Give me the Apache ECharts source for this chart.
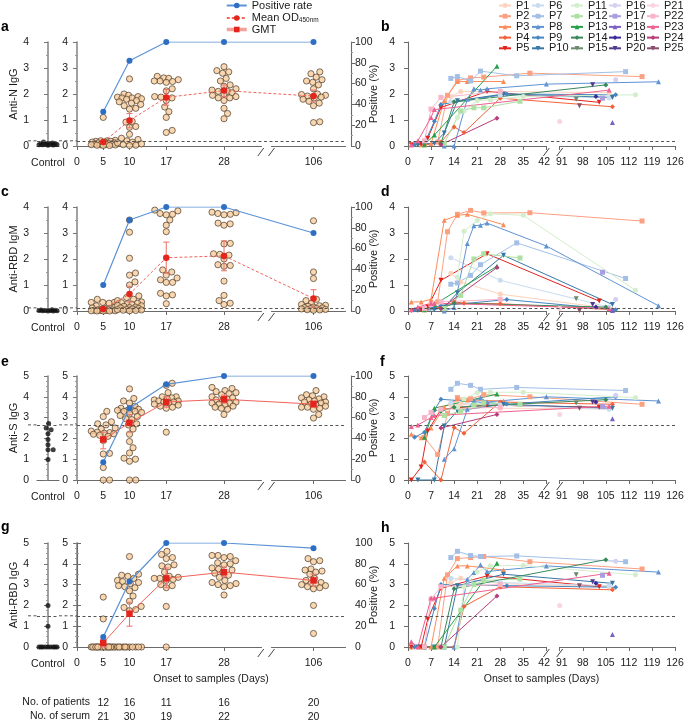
<!DOCTYPE html>
<html><head><meta charset="utf-8">
<script src="https://cdn.jsdelivr.net/npm/echarts@6/dist/echarts.min.js"></script>
<style>html,body{margin:0;padding:0;background:#fff}#c{width:685px;height:720px}</style>
</head><body><div id="c"></div><script>
const FONT = '"Liberation Sans", Arial, Helvetica, sans-serif';
const TXT = '#1a1a1a';
const AX = '#6a6a6a';

// ---------- shared categories ----------
const days = [5, 10, 17, 28, 106];
const xTicksLeft = [0, 5, 10, 17, 28, 106];
const nPatients = [12, 16, 11, 16, 20];
const nSerum = [21, 30, 19, 22, 20];

// ---------- panel a : Anti-N IgG ----------
const antiNIgG = [
  [1.1, 0.22, 0.2, 0.2, 0.18, 0.18, 0.15, 0.15, 0.12, 0.12, 0.1, 0.1, 0.08, 0.08, 0.06, 0.05, 0.05, 0.04, 0.03, 0.02, 0.02],
  [2.58, 2.0, 1.95, 1.9, 1.88, 1.85, 1.85, 1.82, 1.8, 1.75, 1.7, 1.65, 1.6, 1.55, 1.45, 1.42, 0.95, 0.92, 0.75, 0.72, 0.45, 0.3, 0.25, 0.2, 0.15, 0.12, 0.08, 0.05, 0.03, 0.02],
  [2.68, 2.62, 2.6, 2.55, 2.5, 2.5, 2.48, 2.45, 2.2, 2.12, 1.9, 1.88, 1.85, 1.75, 1.5, 1.32, 1.1, 0.6, 0.52],
  [3.05, 2.9, 2.85, 2.8, 2.6, 2.5, 2.35, 2.3, 2.2, 2.15, 2.1, 2.1, 2.05, 2.0, 1.95, 1.9, 1.85, 1.85, 1.75, 1.45, 1.25, 1.05],
  [2.85, 2.78, 2.65, 2.55, 2.5, 2.45, 2.35, 2.2, 2.0, 1.98, 1.95, 1.92, 1.88, 1.85, 1.8, 1.72, 1.65, 1.55, 0.93, 0.9]
];
const ctrlN = [0.05, 0.08, 0.1, 0.03, 0.06, 0.12, 0.07, 0.04, 0.09, 0.15, 0.05, 0.08];
const meanN = [0.15, 0.98, 1.87, 2.13, 1.92];
const errN = [[0.1, 0.2], [0.7, 1.25], [1.57, 2.17], [1.9, 2.35], [1.7, 2.15]];
const posN = [33, 82, 100, 100, 100];
const cutN = 0.2;

// ---------- panel c : Anti-RBD IgM ----------
const antiRBDIgM = [
  [0.45, 0.33, 0.33, 0.33, 0.3, 0.2, 0.15, 0.12, 0.1, 0.08, 0.06, 0.05, 0.04, 0.03, 0.02, 0.02, 0.01, 0.01, 0.0, 0.0, 0.0],
  [3.5, 3.03, 2.03, 1.46, 1.38, 1.12, 1.0, 0.58, 0.52, 0.45, 0.4, 0.35, 0.32, 0.3, 0.28, 0.25, 0.22, 0.2, 0.18, 0.15, 0.13, 0.12, 0.1, 0.08, 0.06, 0.05, 0.04, 0.03, 0.02, 0.01],
  [3.88, 3.85, 3.75, 3.72, 3.7, 3.5, 3.3, 3.05, 1.58, 1.5, 1.38, 1.27, 1.2, 1.1, 1.1, 0.68, 0.62, 0.58, 0.28],
  [3.8, 3.78, 3.75, 3.72, 3.7, 3.38, 3.35, 3.3, 2.6, 2.58, 2.2, 2.18, 2.15, 2.0, 1.78, 1.75, 1.72, 1.15, 0.6, 0.4, 0.3, 0.25],
  [3.47, 1.5, 1.25, 0.45, 0.4, 0.3, 0.25, 0.22, 0.2, 0.18, 0.15, 0.13, 0.12, 0.1, 0.09, 0.08, 0.06, 0.05, 0.04, 0.03]
];
const ctrlIgM = [0.0, 0.02, 0.01, 0.03, 0.0, 0.05, 0.02, 0.01, 0.04, 0.02];
const meanIgM = [0.08, 0.65, 2.05, 2.12, 0.48];
const errIgM = [[0.02, 0.15], [0.35, 0.95], [1.45, 2.65], [1.55, 2.7], [0.15, 0.82]];
const posIgM = [25, 87.5, 100, 100, 75];
const cutIgM = 0.12;

// ---------- panel e : Anti-S IgG ----------
const antiSIgG = [
  [3.3, 3.05, 2.8, 2.7, 2.65, 2.5, 2.45, 2.35, 2.3, 2.28, 2.25, 2.22, 2.2, 2.15, 2.1, 1.9, 1.28, 1.25, 0.6, 0.0, 0.0],
  [4.38, 3.92, 3.8, 3.7, 3.55, 3.45, 3.4, 3.38, 3.35, 3.35, 3.3, 3.3, 3.25, 3.2, 3.1, 3.05, 2.95, 2.9, 2.7, 2.65, 2.45, 2.2, 1.85, 1.55, 1.3, 1.05, 1.0, 0.9, 0.0, 0.0],
  [4.65, 4.55, 4.2, 4.0, 4.0, 3.95, 3.9, 3.85, 3.8, 3.8, 3.75, 3.75, 3.7, 3.65, 3.6, 3.55, 3.5, 3.45, 2.3],
  [4.45, 4.4, 4.3, 4.25, 4.2, 4.15, 4.1, 4.0, 3.95, 3.9, 3.85, 3.8, 3.75, 3.7, 3.7, 3.65, 3.6, 3.55, 3.5, 3.45, 3.4, 3.15],
  [4.3, 4.1, 4.05, 4.0, 3.95, 3.9, 3.85, 3.8, 3.75, 3.75, 3.7, 3.65, 3.6, 3.55, 3.5, 3.5, 3.45, 3.4, 3.15, 2.98]
];
const ctrlS = [2.72, 2.5, 2.42, 2.22, 1.95, 1.7, 1.45, 1.45, 0.98];
const gmtS = [1.95, 2.75, 3.75, 3.88, 3.65];
const errS = [[1.5, 2.3], [2.3, 3.15], [3.5, 4.0], [3.7, 4.08], [3.5, 3.8]];
const posS = [17, 69, 92, 100, 100];
const cutS = 2.65;

// ---------- panel g : Anti-RBD IgG ----------
const antiRBDIgG = [
  [2.4, 1.35, 0, 0, 0, 0, 0, 0, 0, 0, 0, 0, 0, 0, 0, 0, 0, 0, 0, 0, 0],
  [4.35, 3.5, 3.45, 3.4, 3.3, 3.2, 3.15, 3.1, 3.05, 2.95, 2.9, 2.85, 2.7, 2.45, 2.2, 1.95, 1.9, 1.8, 1.75, 0, 0, 0, 0, 0, 0, 0, 0, 0, 0, 0],
  [4.6, 4.45, 4.3, 4.25, 3.95, 3.9, 3.85, 3.6, 3.4, 3.35, 3.3, 3.3, 3.25, 3.2, 3.0, 2.95, 2.85, 1.95, 0.0],
  [4.4, 4.4, 4.35, 4.3, 4.15, 4.05, 4.0, 3.95, 3.8, 3.75, 3.7, 3.6, 3.55, 3.45, 3.35, 3.2, 3.1, 3.05, 3.0, 2.95, 2.9, 2.5],
  [4.25, 4.15, 4.1, 3.75, 3.7, 3.65, 3.6, 3.5, 3.3, 3.2, 3.1, 3.05, 3.0, 3.0, 2.95, 2.9, 2.85, 2.8, 2.0, 0.65]
];
const ctrlRBD = [2.0, 1.0, 0, 0, 0, 0, 0, 0, 0, 0, 0];
const gmtRBD = [0.2, 1.6, 3.3, 3.6, 3.2];
const errRBD = [[0.0, 0.35], [1.0, 2.15], [2.85, 3.8], [3.4, 3.85], [2.95, 3.5]];
const posRBD = [9.5, 63, 100, 100, 95];
const cutRBD = 1.5;

// ---------- patients (panels b, d, f, h) ----------
const patNames = ['P1','P2','P3','P4','P5','P6','P7','P8','P9','P10','P11','P12','P13','P14','P15','P16','P17','P18','P19','P20','P21','P22','P23','P24','P25'];
const patColors = ['#fdd3bd','#fca082','#fb8d5a','#f0623a','#e3231e',
                   '#c9dcf0','#a3bfe6','#5f93d2','#4686c0','#3877a5',
                   '#d3eecb','#ade0a3','#24a049','#38895a','#6b8a6a',
                   '#d5cff1','#a99de0','#7a60c6','#3a2a9c','#4f3a8e',
                   '#fbd4e0','#f8b4c8','#ee6190','#b83b7a','#8a4c6c'];
const sampleDays = [
  [13, 16, 28, 106], [5, 9, 12, 15, 19, 23, 37, 116], [1, 4, 7, 11, 15, 18, 29], [5, 10, 14, 17, 28, 107], [1, 4, 6, 10, 24, 103],
  [13, 28, 106], [13, 15, 19, 22, 33, 111], [11, 14, 18, 20, 22, 24, 42, 121], [2, 5, 8, 10, 30, 108], [3, 8, 11, 15, 29, 107],
  [15, 17, 21, 25, 35, 114], [11, 16, 20, 23, 34], [5, 8, 27], [10, 14, 105], [96],
  [108], [104], [107], [102], [101],
  [91], [5, 7, 10, 28], [1, 3, 7, 8, 106], [10, 27], [97]
];
const patN = [
  [1.9, 2.1, 2.1, 2.05], [0.05, 0.15, 1.95, 2.52, 2.62, 2.65, 2.8, 2.67], [0.05, 0.05, 0.1, 1.75, 2.48, 2.48, 2.48], [0.05, 0.15, 0.73, 0.52, 1.84, 1.51], [0.05, 0.08, 0.3, 1.48, 2.1, 1.68],
  [1.7, 1.95, 1.85], [2.6, 2.67, 2.5, 2.88, 2.7, 2.86], [0, 0, 1.8, 2.2, 2.15, 2.2, 2.38, 2.47], [0.05, 0.1, 0.95, 1.6, 2.0, 1.97], [0.05, 0.1, 0.5, 1.74, 2.0, 1.87],
  [1.1, 1.35, 1.75, 1.77, 1.9, 1.97], [0.1, 1.35, 1.47, 1.47, 1.72], [0.05, 0.42, 3.07], [0.1, 1.7, 2.35], [1.8],
  [2.55], [1.84], [0.9], [1.9], [2.36],
  [0.94], [0.2, 1.42, 1.87, 2.1], [0.05, 0.2, 1.1, 1.4, 2.15], [0.05, 1.07], [1.55]
];
const patIgM = [
  [1.45, 1.12, 0.65, 0.1], [0.05, 0.35, 3.05, 3.72, 3.87, 3.77, 3.78, 3.46], [0.35, 0.35, 0.45, 3.49, 3.68, 3.72, 3.32], [0.05, 0.15, 0.35, 0.3, 0.28, 0.05], [0.02, 0.05, 0.15, 1.18, 2.2, 0.38],
  [2.05, 1.18, 0.15], [1.03, 1.08, 1.37, 1.78, 2.62, 1.25], [0.0, 0.13, 2.6, 3.28, 3.3, 3.38, 2.5, 0.2], [0.05, 0.08, 0.15, 0.2, 0.44, 0.05], [0.02, 0.05, 0.15, 0.7, 2.14, 0.25],
  [1.3, 3.07, 3.48, 3.74, 3.68, 0.8], [0.1, 0.6, 2.0, 2.2, 2.04], [0.05, 0.25, 1.72], [0.1, 0.3, 0.15], [0.47],
  [0.44], [1.49], [0.02], [0.15], [0.25],
  [0.1], [0.1, 0.25, 0.35, 0.45], [0.05, 0.15, 0.3, 0.3, 0.1], [0.1, 1.67], [0.02]
];
const patS = [
  [3.6, 3.65, 3.45, 3.42], [2.05, 1.23, 3.2, 3.96, 3.9, 4.1, 4.0, 3.64], [2.2, 2.03, 2.5, 3.5, 3.9, 3.85, 3.8], [0.87, 0.0, 2.52, 2.25, 3.75, 3.64], [0.0, 0.62, 2.35, 3.4, 3.6, 3.5],
  [3.7, 3.6, 3.4], [4.36, 4.65, 4.55, 4.36, 4.45, 4.3], [1.0, 1.5, 3.4, 3.8, 3.95, 3.75, 4.0, 3.8], [2.05, 2.3, 3.35, 3.88, 3.65, 4.0], [0, 0, 2.6, 3.33, 3.64, 3.45],
  [3.5, 3.9, 4.2, 4.22, 4.22, 3.96], [3.1, 3.3, 3.6, 3.7, 3.64], [2.05, 3.45, 4.13], [3.3, 3.5, 3.86], [3.7],
  [4.08], [3.53], [2.95], [3.75], [3.75],
  [3.15], [3.0, 3.25, 3.4, 3.5], [2.57, 2.65, 3.0, 3.1, 3.55], [2.5, 3.15], [3.45]
];
const patRBD = [
  [3.1, 3.3, 3.05, 2.9], [0, 0, 3.47, 4.25, 4.3, 4.35, 4.1, 3.75], [0, 0, 0, 3.3, 3.9, 3.9, 3.7], [0, 0, 0, 1.95, 2.9, 2.75], [0, 0, 1.34, 2.82, 3.42, 2.9],
  [3.3, 3.1, 2.95], [4.3, 4.6, 4.4, 4.35, 4.38, 4.1], [0, 0, 3.26, 3.58, 3.95, 3.63, 3.9, 3.6], [0, 0, 1.85, 3.0, 2.95, 2.87], [0, 0, 0, 2.94, 3.5, 3.06],
  [0, 2.9, 3.6, 3.9, 3.92, 3.47], [0, 1.77, 3.0, 3.2, 3.27], [0, 0, 4.03], [0, 2.8, 4.2], [3.47],
  [4.12], [3.45], [0.6], [3.06], [3.14],
  [2.0], [0, 2.3, 2.9, 3.0], [0.25, 0, 2.35, 2.35, 3.55], [0, 2.45], [2.94]
];

// ---------- layout helpers ----------
const TOPS = [42, 207, 376, 543], H = 104;
const CT = {left: 37, width: 22}, LM = {left: 77, width: 268}, RP = {left: 408, width: 267};
const XPPD_MAIN = 5.25;   // px per day on left panels (swarm layout)
const CTRL_PPU = 11;      // px per unit on control x axis
const SYMS = ['circle', 'rect', 'triangle', 'diamond', 'triangle'];
const ROTS = [0, 0, 0, 0, 180];
const LEG_COL_X = [498, 531, 570, 608, 646];

// beeswarm layout: horizontal offsets (px) so that dots do not overlap
function swarm(vals, pxPerY, d, cap) {
  const idx = vals.map((v, i) => i).sort((a, b) => vals[a] - vals[b]);
  const placed = [], off = new Array(vals.length);
  for (const i of idx) {
    const y = vals[i] * pxPerY;
    const cands = [0];
    for (const p of placed) {
      const dy = Math.abs(p.y - y);
      if (dy < d) { const dx = Math.sqrt(d * d - dy * dy); cands.push(p.x + dx, p.x - dx); }
    }
    cands.sort((a, b) => Math.abs(a) - Math.abs(b));
    let x = null;
    for (const c of cands) {
      if (Math.abs(c) > cap) continue;
      if (placed.every(p => (p.x - c) ** 2 + (p.y - y) ** 2 >= d * d - 0.01)) { x = c; break; }
    }
    if (x === null) {
      let best = 0, bestD = -1;
      for (let c = -cap; c <= cap + 1e-9; c += 0.5) {
        let md = Infinity;
        for (const p of placed) md = Math.min(md, Math.hypot(p.x - c, p.y - y));
        if (md > bestD + 1e-9) { bestD = md; best = c; }
      }
      x = best;
    }
    placed.push({x, y}); off[i] = x;
  }
  return off;
}

const rows = [
  {title: 'Anti-N IgG', max: 4, groups: antiNIgG, ctrl: ctrlN, mean: meanN, err: errN, pos: posN, cut: cutN, meanName: 'Mean OD450nm', dashed: true, sym: 'circle', pat: patN, minor: 2},
  {title: 'Anti-RBD IgM', max: 4, groups: antiRBDIgM, ctrl: ctrlIgM, mean: meanIgM, err: errIgM, pos: posIgM, cut: cutIgM, meanName: 'Mean OD450nm', dashed: true, sym: 'circle', pat: patIgM, minor: 2},
  {title: 'Anti-S IgG', max: 5, groups: antiSIgG, ctrl: ctrlS, mean: gmtS, err: errS, pos: posS, cut: cutS, meanName: 'GMT', dashed: false, sym: 'rect', pat: patS, minor: 4},
  {title: 'Anti-RBD IgG', max: 5, groups: antiRBDIgG, ctrl: ctrlRBD, mean: gmtRBD, err: errRBD, pos: posRBD, cut: cutRBD, meanName: 'GMT', dashed: false, sym: 'rect', pat: patRBD, minor: 4}
];

const txt = {fontFamily: FONT, fontSize: 10.5, color: TXT};
const axLine = {show: true, lineStyle: {color: AX, width: 1.1}};
const leftBreaks = [{start: 35, end: 98, gap: '4%'}];
const rightBreaks = [{start: 42, end: 91, gap: '5%'}];
const noBreakArea = {show: false, expandOnClick: false};
const DASH = [3, 2.5];
const ML = v => ({silent: true, symbol: ['none', 'none'], label: {show: false}, animation: false,
  lineStyle: {color: '#555', width: 1, type: DASH}, emphasis: {disabled: true}, data: [{yAxis: v}]});

const grid = [], xAxis = [], yAxis = [], series = [];
const G = (left, top, width) => ({left, top, width, height: H, outerBoundsMode: 'none', containLabel: false});
const leftY = (R, extra, showLabel) => Object.assign({type: 'value', min: 0, max: R.max, interval: 1,
  axisLine: {show: true, lineStyle: {color: '#8a8a8a', width: 1.6}},
  axisTick: {show: true, length: 4, lineStyle: {color: '#777'}},
  minorTick: {show: true, splitNumber: R.minor, length: 2, lineStyle: {color: '#999'}},
  axisLabel: Object.assign({show: showLabel, margin: 4}, txt), splitLine: {show: false}}, extra);

rows.forEach((R, r) => {
  const top = TOPS[r], gi = 3 * r, yi = 4 * r;
  const pxPerY = H / R.max;
  grid.push(G(CT.left, top, CT.width));
  grid.push(G(LM.left, top, LM.width));
  grid.push(G(RP.left, top, RP.width));

  xAxis.push({gridIndex: gi, type: 'value', min: -1, max: 1, offset: 6, axisLine: axLine, axisTick: {show: false},
    axisLabel: {show: false}, splitLine: {show: false}, name: 'Control', nameLocation: 'middle', nameGap: 6, nameMoveOverlap: false,
    nameTextStyle: Object.assign({verticalAlign: 'top'}, txt)});
  xAxis.push({gridIndex: gi + 1, type: 'value', min: 0, max: 112, offset: 6, breaks: leftBreaks, breakArea: noBreakArea,
    axisLine: axLine, axisTick: {show: true, customValues: xTicksLeft, length: 4, lineStyle: {color: AX}},
    axisLabel: Object.assign({customValues: xTicksLeft, margin: 5}, txt), splitLine: {show: false},
    name: r === 3 ? 'Onset to samples (Days)' : '', nameLocation: 'middle', nameGap: 21, nameMoveOverlap: false,
    nameTextStyle: Object.assign({verticalAlign: 'top'}, txt)});
  xAxis.push({gridIndex: gi + 2, type: 'value', min: 0, max: 126, interval: 7, offset: 6, breaks: rightBreaks, breakArea: noBreakArea,
    axisLine: axLine, axisTick: {show: true, length: 4, lineStyle: {color: AX}},
    axisLabel: Object.assign({margin: 5}, txt), splitLine: {show: false},
    name: r === 3 ? 'Onset to samples (Days)' : '', nameLocation: 'middle', nameGap: 21, nameMoveOverlap: false,
    nameTextStyle: Object.assign({verticalAlign: 'top'}, txt)});

  yAxis.push(leftY(R, {gridIndex: gi, offset: 4, position: 'left'}, false));   // control axis: labels drawn below
  yAxis.push(leftY(R, {gridIndex: gi + 1, offset: 5, position: 'left'}, true));
  yAxis.push({gridIndex: gi + 1, type: 'value', position: 'right', offset: 6, min: 0, max: 100, interval: 20,
    axisLine: {show: true, lineStyle: {color: AX, width: 1.1}}, axisTick: {show: true, length: 4, lineStyle: {color: AX}},
    minorTick: {show: true, splitNumber: 2, length: 2, lineStyle: {color: '#999'}},
    axisLabel: Object.assign({margin: 4}, txt), splitLine: {show: false},
    name: 'Positive (%)', nameLocation: 'middle', nameGap: 17, nameRotate: 90, nameMoveOverlap: false,
    nameTextStyle: Object.assign({}, txt, {fontSize: 11})});
  yAxis.push({gridIndex: gi + 2, type: 'value', offset: 9, position: 'left', min: 0, max: R.max, interval: 1,
    axisLine: {show: true, lineStyle: {color: AX, width: 1.1}}, axisTick: {show: true, length: 4, lineStyle: {color: AX}},
    axisLabel: Object.assign({margin: 4}, txt), splitLine: {show: false}});

  // control dots
  const cOff = swarm(R.ctrl, pxPerY, 5.2, 9);
  series.push({type: 'scatter', xAxisIndex: gi, yAxisIndex: yi, z: 3, silent: true,
    data: R.ctrl.map((v, i) => [cOff[i] / CTRL_PPU, v]), symbolSize: 5, itemStyle: {color: '#111'}, markLine: ML(R.cut)});

  // patient dots (beeswarm)
  const pts = [];
  R.groups.forEach((g, k) => {
    const off = swarm(g, pxPerY, 6.3, 12);
    g.forEach((v, i) => pts.push([days[k] + off[i] / XPPD_MAIN, v]));
  });
  series.push({type: 'scatter', xAxisIndex: gi + 1, yAxisIndex: yi + 1, z: 3, silent: true, data: pts, symbolSize: 6.2,
    itemStyle: {color: '#f6cd9d', borderColor: '#4d3b2a', borderWidth: 0.9}, markLine: ML(R.cut)});

  // error bars
  series.push({type: 'custom', xAxisIndex: gi + 1, yAxisIndex: yi + 1, z: 4, silent: true,
    data: R.err.map((e, k) => [days[k], e[0], e[1]]), encode: {x: 0, y: [1, 2]},
    renderItem: (params, api) => {
      const x = api.value(0);
      const a = api.coord([x, api.value(2)]), b = api.coord([x, api.value(1)]);
      const st = {stroke: '#ee7a72', lineWidth: 1.1};
      return {type: 'group', children: [
        {type: 'line', shape: {x1: a[0], y1: a[1], x2: b[0], y2: b[1]}, style: st},
        {type: 'line', shape: {x1: a[0] - 3, y1: a[1], x2: a[0] + 3, y2: a[1]}, style: st},
        {type: 'line', shape: {x1: b[0] - 3, y1: b[1], x2: b[0] + 3, y2: b[1]}, style: st}]};
    }});

  // mean OD / GMT
  series.push({type: 'line', name: R.meanName, xAxisIndex: gi + 1, yAxisIndex: yi + 1, z: 5,
    data: days.map((d, k) => [d, R.mean[k]]), symbol: R.sym, symbolSize: 6.5,
    itemStyle: {color: '#e3251d'}, lineStyle: {color: '#f0645b', width: 1, type: R.dashed ? [3, 2] : 'solid'}});

  // positive rate
  series.push({type: 'line', name: 'Positive rate', xAxisIndex: gi + 1, yAxisIndex: yi + 2, z: 6,
    data: days.map((d, k) => [d, R.pos[k]]), symbol: 'circle', symbolSize: 6,
    itemStyle: {color: '#2e6fc4'}, lineStyle: {color: '#5b93d6', width: 1.2}});

  // per patient kinetics
  patNames.forEach((nm, p) => {
    const s = {type: 'line', name: nm, xAxisIndex: gi + 2, yAxisIndex: yi + 3, z: 3,
      data: sampleDays[p].map((d, i) => [d, R.pat[p][i]]),
      symbol: SYMS[p % 5], symbolRotate: ROTS[p % 5], symbolSize: 5,
      itemStyle: {color: patColors[p]}, lineStyle: {color: patColors[p], width: 1}};
    if (p === 0) s.markLine = ML(R.cut);
    series.push(s);
  });
});

// count rows under panel g (numbers placed on extra axes sharing panel g's day scale)
[[nPatients, 51], [nSerum, 65]].forEach(([arr, off]) => {
  xAxis.push({gridIndex: 10, type: 'value', min: 0, max: 112, position: 'bottom', offset: off,
    breaks: leftBreaks, breakArea: noBreakArea,
    axisLine: {show: false}, axisTick: {show: false}, splitLine: {show: false},
    axisLabel: Object.assign({customValues: days, margin: 0, formatter: v => String(arr[days.indexOf(Math.round(v))])}, txt)});
});

const letters = [['a', 1, 20], ['b', 381, 20], ['c', 1, 185], ['d', 381, 185], ['e', 1, 355], ['f', 380, 355], ['g', 1, 520], ['h', 381, 521]];
const title = letters.map(([t, l, tp]) => ({text: t, left: l, top: tp, padding: 0,
  textStyle: {fontFamily: FONT, fontSize: 14, fontWeight: 'bold', color: '#000'}}));

const legend = [
  {data: ['Positive rate', {name: 'Mean OD450nm'}, {name: 'GMT', lineStyle: {width: 3.5, color: '#f5a19b'}}],
   orient: 'vertical', left: 225, top: 0, padding: 0, itemWidth: 20, itemHeight: 7, itemGap: 0.5, selectedMode: false,
   textStyle: {fontFamily: FONT, fontSize: 11, color: TXT, lineHeight: 11,
     rich: {sub: {fontFamily: FONT, fontSize: 6.5, color: TXT, verticalAlign: 'bottom', lineHeight: 11, padding: [5, 0, 0, 0]}}},
   formatter: n => n === 'Mean OD450nm' ? 'Mean OD{sub|450nm}' : n}
];
LEG_COL_X.forEach((x, c) => legend.push({
  data: patNames.slice(5 * c, 5 * c + 5), orient: 'vertical', left: x, top: 0, padding: 0,
  itemWidth: 12, itemHeight: 6, itemGap: -0.3, selectedMode: false,
  textStyle: {fontFamily: FONT, fontSize: 11, color: TXT, lineHeight: 10}}));

const chart = echarts.init(document.getElementById('c'));
chart.setOption({animation: false, backgroundColor: '#fff', title, legend, grid, xAxis, yAxis, series});

// decorations: axis break marks "//", threshold continuation, control-axis tick labels, row titles, captions
const g = [];
rows.forEach((R, r) => {
  const y = TOPS[r] + H + 6;
  [[3 * r + 1, 35, 98], [3 * r + 2, 42, 91]].forEach(([xi, s, e]) => {
    const xs = chart.convertToPixel({xAxisIndex: xi}, s);
    const xe = chart.convertToPixel({xAxisIndex: xi}, e);
    if (!isFinite(xs) || !isFinite(xe)) return;
    g.push({type: 'rect', shape: {x: xs + 1, y: y - 2, width: Math.max(0, xe - xs - 2), height: 4}, style: {fill: '#fff'}, z: 100});
    [xs, xe].forEach(px => g.push({type: 'line', shape: {x1: px - 3, y1: y + 4, x2: px + 3, y2: y - 4},
      style: {stroke: '#444', lineWidth: 1}, z: 101}));
  });
  const yc = chart.convertToPixel({yAxisIndex: 4 * r + 1}, R.cut);
  [[28, CT.left], [CT.left + CT.width, LM.left]].forEach(([x1, x2]) => g.push({type: 'line', silent: true,
    shape: {x1, y1: yc, x2, y2: yc}, style: {stroke: '#555', lineWidth: 1, lineDash: DASH}, z: 2}));
  for (let v = 0; v <= R.max; v++) {
    const py = chart.convertToPixel({yAxisIndex: 4 * r}, v);
    g.push({type: 'text', silent: true, zlevel: 1, z: 50,
      style: {text: String(v), x: CT.left - 4 - 4, y: py, align: 'right', verticalAlign: 'middle', fontFamily: FONT, fontSize: 10.5, fill: TXT}});
  }
  g.push({type: 'text', silent: true, zlevel: 1, x: 14, y: TOPS[r] + H / 2, rotation: Math.PI / 2,
    style: {text: R.title, align: 'center', verticalAlign: 'middle', fontFamily: FONT, fontSize: 11, fill: TXT}});
});
[['No. of patients', 702], ['No. of serum', 716]].forEach(([t, y]) => g.push({type: 'text', silent: true,
  style: {text: t, x: 90, y, align: 'right', verticalAlign: 'middle', fontFamily: FONT, fontSize: 10.5, fill: TXT}}));
chart.setOption({graphic: g});
</script></body></html>
